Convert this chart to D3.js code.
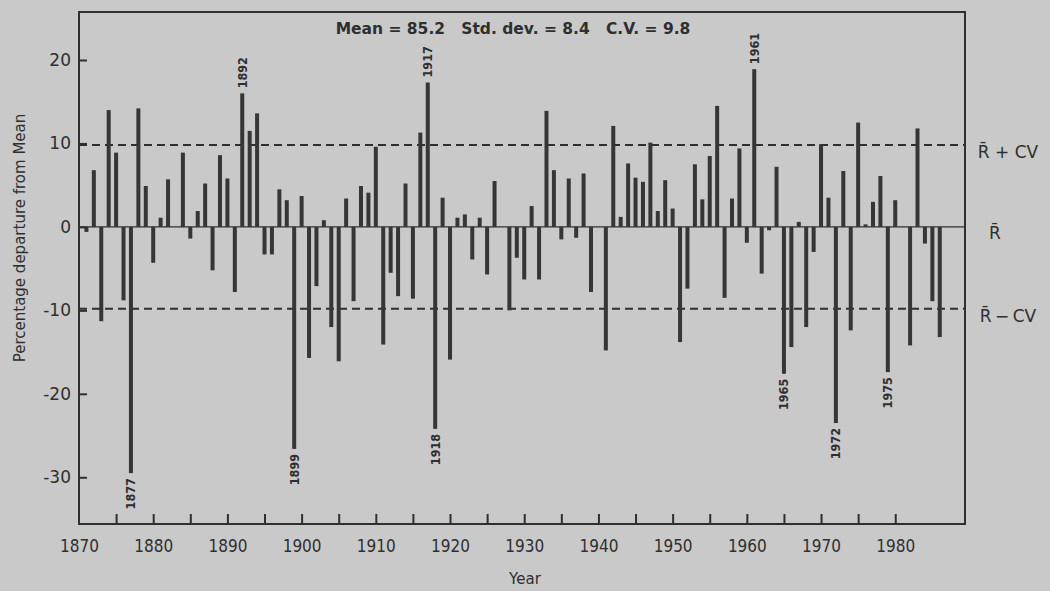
<!DOCTYPE html>
<html><head><meta charset="utf-8">
<script src="https://cdn.jsdelivr.net/npm/d3@7/dist/d3.min.js"></script>
<style>
body{margin:0;background:#c9c9c9;}
svg{display:block}
</style>
</head><body>
<svg id="chart" width="1050" height="591"></svg>
<script>
// ---- data ----
const years = d3.range(1871, 1987);
const departures = [
  -0.6, 6.8, -11.3, 14.0, 8.9, -8.8, -29.5, 14.2, 4.9, -4.3,      // 1871-1880
  1.1, 5.7, 0, 8.9, -1.4, 1.9, 5.2, -5.2, 8.6, 5.8,               // 1881-1890
  -7.8, 16.0, 11.5, 13.6, -3.3, -3.3, 4.5, 3.2, -26.6, 3.7,       // 1891-1900
  -15.7, -7.1, 0.8, -12.0, -16.1, 3.4, -8.9, 4.9, 4.1, 9.6,       // 1901-1910
  -14.1, -5.5, -8.3, 5.2, -8.6, 11.3, 17.3, -24.2, 3.5, -15.9,    // 1911-1920
  1.1, 1.5, -3.9, 1.1, -5.7, 5.5, 0, -10.0, -3.7, -6.3,           // 1921-1930
  2.5, -6.3, 13.9, 6.8, -1.5, 5.8, -1.3, 6.4, -7.8, 0,            // 1931-1940
  -14.8, 12.1, 1.2, 7.6, 5.9, 5.4, 10.1, 1.9, 5.6, 2.2,           // 1941-1950
  -13.8, -7.4, 7.5, 3.3, 8.5, 14.5, -8.5, 3.4, 9.4, -1.9,         // 1951-1960
  18.9, -5.6, -0.4, 7.2, -17.6, -14.4, 0.6, -12.0, -3.0, 9.9,     // 1961-1970
  3.5, -23.5, 6.7, -12.4, 12.5, 0.3, 3.0, 6.1, -17.4, 3.2,        // 1971-1980
  0, -14.2, 11.8, -2.0, -8.9, -13.2                               // 1981-1986
];
const yTickValues = [20, 10, 0, -10, -20, -30];
const xLabelYears = d3.range(1870, 1981, 10);
const xTickYears = d3.range(1875, 1981, 5);
const labeledYears = [1877, 1892, 1899, 1917, 1918, 1961, 1965, 1972, 1979];
const labeledTexts = ["1877", "1892", "1899", "1917", "1918", "1961", "1965", "1972", "1975"];
const statsText = "Mean = 85.2   Std. dev. = 8.4   C.V. = 9.8";
const cvValue = 9.8;
const refLines = [
  {value: cvValue, label: "R\u0304 + CV"},
  {value: 0, label: "R\u0304"},
  {value: -cvValue, label: "R\u0304\u2009\u2212\u2009CV"}
];
const yTitle = "Percentage departure from Mean";
const xTitle = "Year";

// ---- layout ----
const ink = "#2f2f2f";
const plotL = 79, plotR = 965, plotT = 12, plotB = 524;
const svg = d3.select("#chart");
svg.append("rect").attr("width", 1050).attr("height", 591).attr("fill", "#c9c9c9");

const x = d3.scaleLinear().domain([1870, 1989.4]).range([plotL, plotR]);
const y = d3.scaleLinear().domain([-35.6, 25.75]).range([plotB, plotT]);

const data = years.map((yr, i) => ({year: yr, v: departures[i]}));

// frame
svg.append("rect")
  .attr("x", plotL).attr("y", plotT)
  .attr("width", plotR - plotL).attr("height", plotB - plotT)
  .attr("fill", "none").attr("stroke", ink).attr("stroke-width", 2);

// reference lines
svg.append("line")
  .attr("x1", plotL).attr("x2", plotR)
  .attr("y1", y(0)).attr("y2", y(0))
  .attr("stroke", ink).attr("stroke-width", 1.4);
[cvValue, -cvValue].forEach(v => {
  svg.append("line")
    .attr("x1", plotL).attr("x2", plotR)
    .attr("y1", y(v)).attr("y2", y(v))
    .attr("stroke", ink).attr("stroke-width", 2)
    .attr("stroke-dasharray", "8,5");
});

// bars
svg.append("g").selectAll("rect")
  .data(data.filter(d => d.v !== 0))
  .join("rect")
  .attr("x", d => x(d.year) - 2)
  .attr("width", 4)
  .attr("y", d => Math.min(y(d.v), y(0)))
  .attr("height", d => Math.abs(y(d.v) - y(0)))
  .attr("fill", "#363636");

// bar year labels
svg.append("g").selectAll("text")
  .data(labeledYears.map((yr, i) => ({year: yr, text: labeledTexts[i], v: departures[years.indexOf(yr)]})))
  .join("text")
  .attr("transform", d => {
    const yy = d.v > 0 ? y(d.v) - 5 : y(d.v) + 5;
    return `translate(${x(d.year)},${yy}) rotate(-90)`;
  })
  .attr("text-anchor", d => d.v > 0 ? "start" : "end")
  .attr("dominant-baseline", "central")
  .attr("font-family", "'DejaVu Sans Condensed','DejaVu Sans',sans-serif")
  .attr("font-weight", "bold")
  .attr("font-size", 12.5)
  .attr("fill", ink)
  .text(d => d.text);

// y axis
const yAxis = svg.append("g")
  .attr("transform", `translate(${plotL},0)`)
  .call(d3.axisLeft(y).tickValues(yTickValues).tickSize(-8).tickPadding(8).tickFormat(d3.format("d")));
yAxis.select(".domain").remove();
yAxis.selectAll("line").attr("stroke", ink).attr("stroke-width", 2);
yAxis.selectAll("text")
  .attr("font-family", "'DejaVu Sans',sans-serif")
  .attr("font-size", 17).attr("fill", ink)
  .text(d => d < 0 ? "-" + Math.abs(d) : d);

// x axis ticks
const xAxis = svg.append("g")
  .attr("transform", `translate(0,${plotB})`)
  .call(d3.axisBottom(x).tickValues(xTickYears).tickSize(-10).tickFormat(""));
xAxis.select(".domain").remove();
xAxis.selectAll("line").attr("stroke", ink).attr("stroke-width", 2);

// x axis labels
const xLab = svg.append("g")
  .attr("transform", `translate(0,${plotB})`)
  .call(d3.axisBottom(x).tickValues(xLabelYears).tickSize(0).tickPadding(16).tickFormat(d3.format("d")));
xLab.select(".domain").remove();
xLab.selectAll("text")
  .attr("font-family", "'Liberation Sans Narrow','DejaVu Sans Condensed',sans-serif")
  .attr("font-size", 17).attr("fill", ink);

// titles
svg.append("text")
  .attr("transform", `translate(20,${(plotT + plotB) / 2 - 30}) rotate(-90)`)
  .attr("text-anchor", "middle")
  .attr("dominant-baseline", "central")
  .attr("font-family", "'DejaVu Sans',sans-serif")
  .attr("font-size", 15).attr("fill", ink)
  .text(yTitle);

svg.append("text")
  .attr("x", 525).attr("y", 584)
  .attr("text-anchor", "middle")
  .attr("font-family", "'DejaVu Sans',sans-serif")
  .attr("font-size", 15).attr("fill", ink)
  .text(xTitle);

svg.append("text")
  .attr("x", 513).attr("y", 34)
  .attr("text-anchor", "middle")
  .attr("font-family", "'DejaVu Sans',sans-serif")
  .attr("font-weight", "bold")
  .attr("font-size", 15.5).attr("fill", ink)
  .attr("xml:space", "preserve")
  .style("white-space", "pre")
  .text(statsText);

// right labels
svg.append("g").selectAll("text")
  .data(refLines)
  .join("text")
  .attr("x", d => d.value === 0 ? 995 : 1008)
  .attr("y", d => y(d.value) + (d.value === 0 ? 12 : 13))
  .attr("text-anchor", "middle")
  .attr("font-family", "'DejaVu Sans',sans-serif")
  .attr("font-size", 17).attr("fill", ink)
  .text(d => d.label);
</script>
</body></html>
